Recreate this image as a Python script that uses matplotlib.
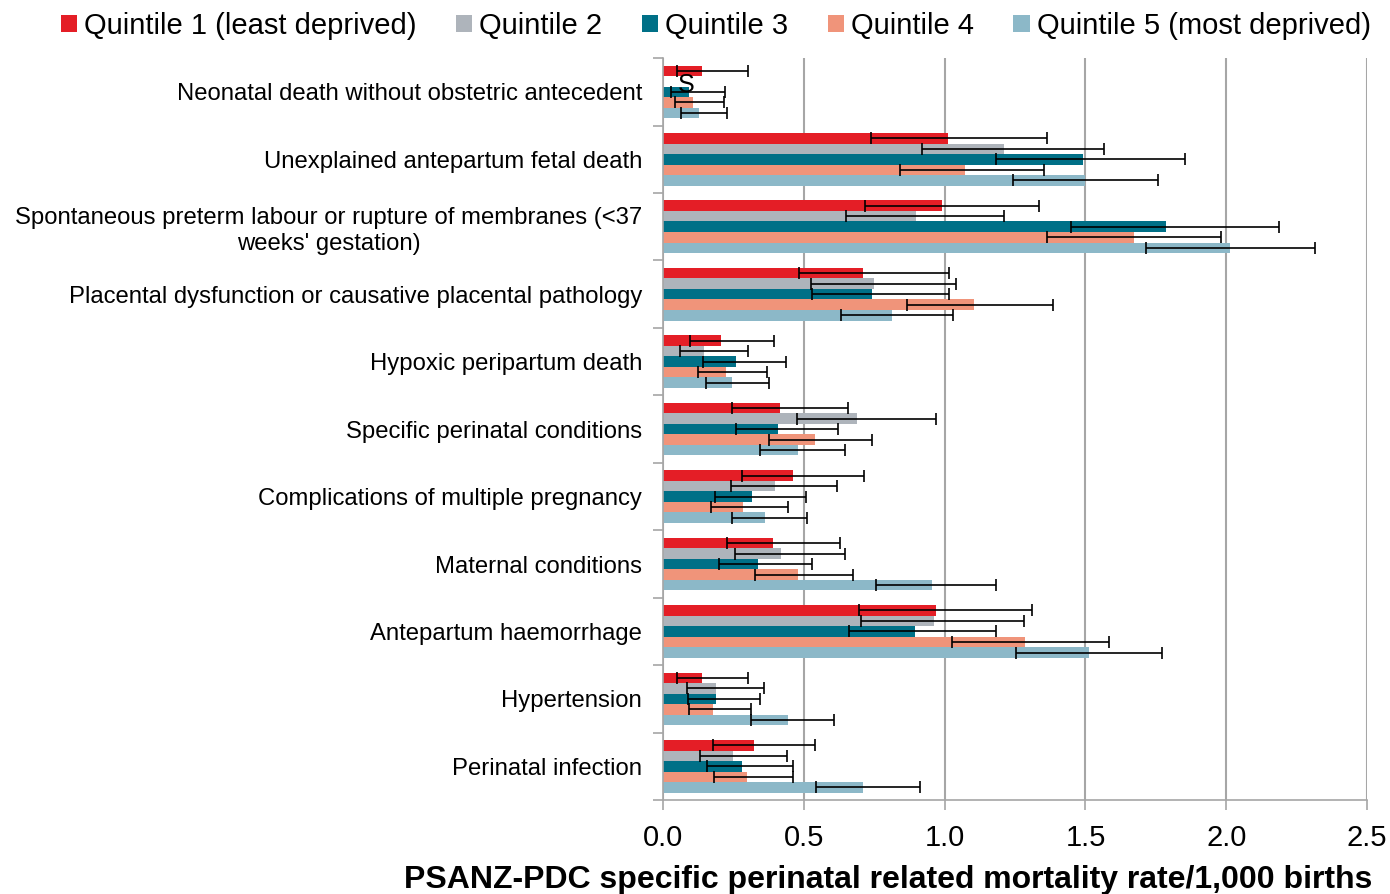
import numpy as np
import matplotlib
matplotlib.use("Agg")
import matplotlib.pyplot as plt
from matplotlib.patches import Patch

plt.rcParams['font.family'] = ['Liberation Sans', 'DejaVu Sans']

nan = np.nan

# Causes of death, top to bottom
causes = [
    "Neonatal death without obstetric antecedent",
    "Unexplained antepartum fetal death",
    "Spontaneous preterm labour or rupture of membranes (<37\nweeks' gestation)",
    "Placental dysfunction or causative placental pathology",
    "Hypoxic peripartum death",
    "Specific perinatal conditions",
    "Complications of multiple pregnancy",
    "Maternal conditions",
    "Antepartum haemorrhage",
    "Hypertension",
    "Perinatal infection",
]

quintile_names = ["Quintile 1 (least deprived)", "Quintile 2", "Quintile 3",
                  "Quintile 4", "Quintile 5 (most deprived)"]
quintile_colors = ["#E41E26", "#AEB4BB", "#007087", "#F0947A", "#8CB8C8"]

# Rates per 1,000 births with 95% CI (lower / upper); Q2 neonatal suppressed
q1 = [0.137, 1.013, 0.989, 0.711, 0.207, 0.414, 0.461, 0.392, 0.969, 0.137, 0.323]
q1_lo = [0.051, 0.738, 0.716, 0.484, 0.095, 0.246, 0.281, 0.228, 0.697, 0.051, 0.177]
q1_hi = [0.301, 1.362, 1.335, 1.014, 0.394, 0.656, 0.713, 0.628, 1.309, 0.301, 0.541]

q2 = [nan, 1.212, 0.897, 0.749, 0.145, 0.689, 0.396, 0.418, 0.961, 0.188, 0.249]
q2_lo = [nan, 0.921, 0.649, 0.525, 0.059, 0.475, 0.240, 0.255, 0.703, 0.086, 0.130]
q2_hi = [nan, 1.566, 1.210, 1.041, 0.301, 0.968, 0.619, 0.645, 1.281, 0.357, 0.439]

q3 = [0.093, 1.490, 1.787, 0.743, 0.260, 0.409, 0.316, 0.336, 0.894, 0.188, 0.279]
q3_lo = [0.030, 1.181, 1.449, 0.530, 0.143, 0.258, 0.184, 0.199, 0.660, 0.090, 0.157]
q3_hi = [0.219, 1.855, 2.186, 1.014, 0.437, 0.621, 0.508, 0.530, 1.184, 0.343, 0.461]

q4 = [0.105, 1.073, 1.671, 1.103, 0.223, 0.538, 0.283, 0.478, 1.284, 0.178, 0.297]
q4_lo = [0.043, 0.841, 1.362, 0.868, 0.125, 0.377, 0.171, 0.326, 1.027, 0.092, 0.182]
q4_hi = [0.215, 1.353, 1.983, 1.386, 0.370, 0.743, 0.443, 0.675, 1.585, 0.313, 0.461]

q5 = [0.126, 1.499, 2.014, 0.813, 0.245, 0.478, 0.361, 0.954, 1.512, 0.442, 0.709]
q5_lo = [0.064, 1.241, 1.714, 0.633, 0.151, 0.344, 0.246, 0.758, 1.252, 0.313, 0.544]
q5_hi = [0.228, 1.759, 2.314, 1.029, 0.375, 0.647, 0.512, 1.183, 1.773, 0.608, 0.911]

rates = [q1, q2, q3, q4, q5]
lows = [q1_lo, q2_lo, q3_lo, q4_lo, q5_lo]
highs = [q1_hi, q2_hi, q3_hi, q4_hi, q5_hi]

xticks = [0.0, 0.5, 1.0, 1.5, 2.0, 2.5]

fig = plt.figure(figsize=(13.9, 8.94), dpi=100)
ax = fig.add_axes([0.477, 0.105, 0.5065, 0.830])

y = np.arange(len(causes))
bar_h = 0.156
grid_col = "#A6A6A6"

for j in range(5):
    vals = np.array(rates[j], dtype=float)
    lo = np.array(lows[j], dtype=float)
    hi = np.array(highs[j], dtype=float)
    pos = y + (j - 2) * bar_h
    ax.barh(pos, np.nan_to_num(vals), height=bar_h, color=quintile_colors[j],
            zorder=2)
    ok = ~np.isnan(vals)
    ax.errorbar(vals[ok], pos[ok], xerr=[vals[ok] - lo[ok], hi[ok] - vals[ok]],
                fmt="none", ecolor="black", elinewidth=1.2, capsize=4,
                capthick=1.2, zorder=3)
    # suppressed value marker
    for k in np.where(~ok)[0]:
        ax.text(0.082, pos[k] + 0.06, "S", ha="center", va="center",
                fontsize=18, zorder=4)

ax.set_xlim(0, 2.5)
ax.set_ylim(len(causes) - 0.5, -0.5)
ax.set_xticks(xticks)
ax.set_xticklabels([f"{t:.1f}" for t in xticks], fontsize=21)
ax.xaxis.grid(True, color=grid_col, linewidth=1.5, zorder=0)
ax.set_axisbelow(True)

ax.set_yticks(y)
ax.set_yticklabels(causes, fontsize=17.2)
for lbl in ax.get_yticklabels():
    lbl.set_multialignment("center")
ax.set_yticks(np.arange(len(causes) + 1) - 0.5, minor=True)
ax.tick_params(axis="y", which="major", length=0, pad=15)
ax.tick_params(axis="y", which="minor", length=7, width=1.2, color=grid_col)
ax.tick_params(axis="x", length=7, width=1.2, color=grid_col, pad=10)

for side in ["top", "right"]:
    ax.spines[side].set_visible(False)
for side in ["left", "bottom"]:
    ax.spines[side].set_color(grid_col)
    ax.spines[side].set_linewidth(1.2)

ax.set_xlabel("PSANZ-PDC specific perinatal related mortality rate/1,000 births",
              fontsize=23, fontweight="bold", loc="right")
ax.xaxis.set_label_coords(1.007, -0.088)

handles = [Patch(facecolor=c, edgecolor="none") for c in quintile_colors]
fig.legend(handles, quintile_names, loc="upper center", ncol=5,
           bbox_to_anchor=(0.515, 1.016), frameon=False, fontsize=21,
           handlelength=0.55, handleheight=0.55, handletextpad=0.25,
           columnspacing=1.35)

fig.savefig("out.png", dpi=100)
